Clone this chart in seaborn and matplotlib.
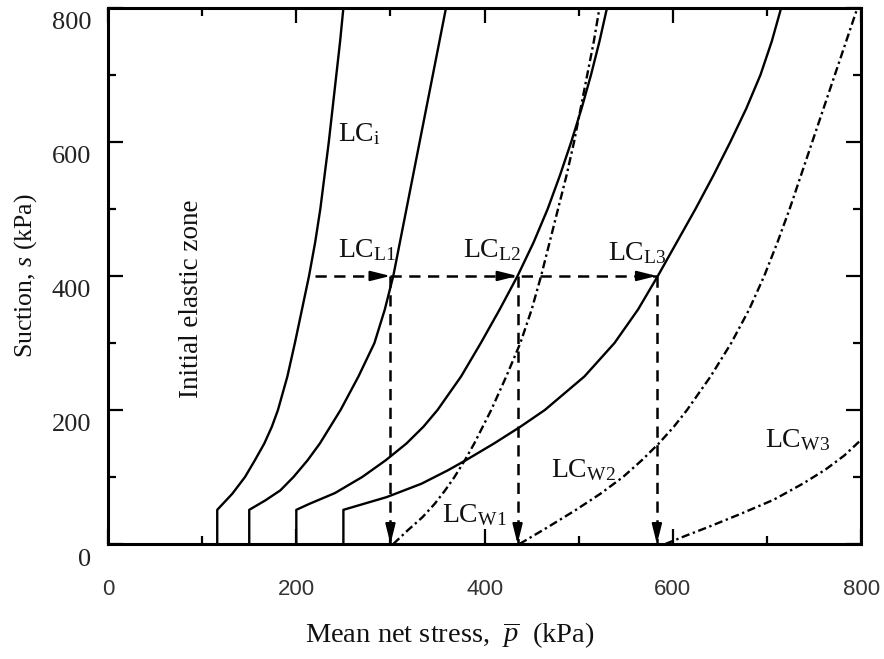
import numpy as np
import pandas as pd
import matplotlib
matplotlib.use("Agg")
import matplotlib.pyplot as plt
import matplotlib.transforms as mtransforms
import seaborn as sns

# ---------------- DATA (p and s in kPa) ----------------
lci_p = [116, 116, 132, 145.5, 156, 166, 174, 180.5, 190.5, 198.5, 206, 213.5, 220, 225.5, 230, 234.5, 238.5, 242.5, 246.5, 250]
lci_s = [0, 51, 75, 100, 125, 150, 175, 200, 250, 300, 350, 400, 450, 500, 550, 600, 650, 700, 750, 800]

lcl1_p = [150, 150, 167, 183, 197, 212, 225, 236, 247, 266, 283, 294, 303, 310, 317, 324, 331, 338, 345, 352, 359]
lcl1_s = [0, 51, 65, 80, 100, 125, 150, 175, 200, 250, 300, 350, 400, 450, 500, 550, 600, 650, 700, 750, 800]

lcl2_p = [200, 200, 214, 241, 270, 295, 317, 335, 350, 375, 396, 416, 435, 452, 467, 480, 492, 503, 513, 522, 530]
lcl2_s = [0, 51, 60, 76, 100, 125, 150, 175, 200, 250, 300, 350, 400, 450, 500, 550, 600, 650, 700, 750, 800]

lcl3_p = [250, 250, 296, 333, 361, 380, 410, 438, 464, 506, 538, 563, 584, 604, 624, 643, 661, 678, 693, 705, 715]
lcl3_s = [0, 51, 70, 90, 110, 125, 150, 175, 200, 250, 300, 350, 400, 450, 500, 550, 600, 650, 700, 750, 800]

lcw1_p = [303, 318, 334, 347, 358, 368, 379, 389, 407, 423, 438, 450, 460, 469, 478, 487, 495, 502, 509, 516, 522]
lcw1_s = [0, 20, 40, 60, 80, 100, 125, 150, 200, 250, 300, 350, 400, 450, 500, 550, 600, 650, 700, 750, 800]

lcw2_p = [437, 467, 496, 523, 547, 567, 585, 601, 615, 640, 662, 681, 697, 711, 724, 736, 748, 760, 772, 784, 796]
lcw2_s = [0, 25, 50, 75, 100, 125, 150, 175, 200, 250, 300, 350, 400, 450, 500, 550, 600, 650, 700, 750, 800]

lcw3_p = [592, 613, 637, 672, 707, 738, 762, 782, 798]
lcw3_s = [0, 12, 25, 45, 66, 90, 111, 132, 153]

# wetting path at constant suction and the yield points it meets
path_s = 400
path_start_p = 220
yield_p = [300, 435, 583]

curve_names = ["LCi", "LCL1", "LCL2", "LCL3", "LCW1", "LCW2", "LCW3"]
curve_kind = ["solid", "solid", "solid", "solid", "dashdot", "dashdot", "dashdot"]
curve_p = [lci_p, lcl1_p, lcl2_p, lcl3_p, lcw1_p, lcw2_p, lcw3_p]
curve_s = [lci_s, lcl1_s, lcl2_s, lcl3_s, lcw1_s, lcw2_s, lcw3_s]

label_text = [r"LC$_{\rm i}$", r"LC$_{\rm L1}$", r"LC$_{\rm L2}$", r"LC$_{\rm L3}$",
              r"LC$_{\rm W1}$", r"LC$_{\rm W2}$", r"LC$_{\rm W3}$"]
label_p = [244, 244, 377, 531, 355, 470, 698]
label_s = [601, 428, 428, 423, 33, 100, 144]

# ---------------- BUILD TABLE ----------------
rows = []
for name, kind, ps, ss in zip(curve_names, curve_kind, curve_p, curve_s):
    for p, s in zip(ps, ss):
        rows.append({"curve": name, "kind": kind, "p": p, "s": s})
df = pd.DataFrame(rows)

# ---------------- STYLE ----------------
sns.set_theme(style="white")
plt.rcParams["font.family"] = ["Liberation Serif", "DejaVu Serif"]
plt.rcParams["mathtext.fontset"] = "custom"
plt.rcParams["mathtext.rm"] = "Liberation Serif"
plt.rcParams["mathtext.it"] = "Liberation Serif:italic"

fig = plt.figure(figsize=(8.84, 6.59), dpi=100)
ax = fig.add_axes([0.1222, 0.1745, 0.852, 0.8135])

sns.lineplot(data=df, x="p", y="s", units="curve", estimator=None, sort=False,
             style="kind", dashes={"solid": "", "dashdot": (3.5, 1.5, 1, 1.5)},
             color="black", linewidth=1.7, legend=False, ax=ax)

# dashed stress path with arrows
dash = (0, (4.5, 3.0))
head = dict(arrowstyle="-|>,head_length=1.2,head_width=0.3", color="black", lw=1.5,
            shrinkA=0, shrinkB=0, mutation_scale=10)
ax.plot([path_start_p, yield_p[-1]], [path_s, path_s], color="black", lw=1.8, linestyle=dash)
for yp in yield_p:
    ax.plot([yp, yp], [path_s, 0], color="black", lw=1.8, linestyle=dash)
    ax.annotate("", xy=(yp, path_s), xytext=(yp - 16, path_s), arrowprops=head)
    ax.annotate("", xy=(yp, 0), xytext=(yp, 25), arrowprops=head)

for txt, lp, ls in zip(label_text, label_p, label_s):
    ax.text(lp, ls, txt, fontsize=20, va="baseline", ha="left", color="#111111")

ax.text(89, 366, "Initial elastic zone", rotation=90, fontsize=19.5,
        ha="center", va="center", color="#111111")

# ---------------- AXES ----------------
ax.set_xlim(0, 800)
ax.set_ylim(0, 800)
ax.set_xticks([0, 200, 400, 600, 800])
ax.set_yticks([0, 200, 400, 600, 800])
ax.set_xticks(np.arange(100, 800, 100), minor=True)
ax.set_yticks(np.arange(100, 800, 100), minor=True)
ax.tick_params(which="both", direction="in", top=True, right=True, bottom=True, left=True,
               color="black", width=1.6)
ax.tick_params(which="major", length=11)
ax.tick_params(which="minor", length=6)
ax.tick_params(axis="x", which="major", pad=25, labelsize=16, labelcolor="#333333")
ax.tick_params(axis="y", which="major", pad=12, labelsize=19, labelcolor="#222222")
for lab in ax.get_xticklabels():
    lab.set_fontfamily(["Liberation Sans", "DejaVu Sans"])
offset = mtransforms.ScaledTranslation(0, -0.13, fig.dpi_scale_trans)
for lab in ax.get_yticklabels():
    lab.set_transform(lab.get_transform() + offset)

for sp in ax.spines.values():
    sp.set_visible(True)
    sp.set_color("black")
    sp.set_linewidth(2.2)

ax.set_xlabel(r"Mean net stress,  $\overline{p}$  (kPa)", fontsize=20.5, color="#111111")
ax.set_ylabel(r"Suction, $s$ (kPa)", fontsize=18.5, color="#111111")
ax.xaxis.set_label_coords(0.454, -0.143)
ax.yaxis.set_label_coords(-0.092, 0.5)

fig.savefig("out.png", dpi=100)
